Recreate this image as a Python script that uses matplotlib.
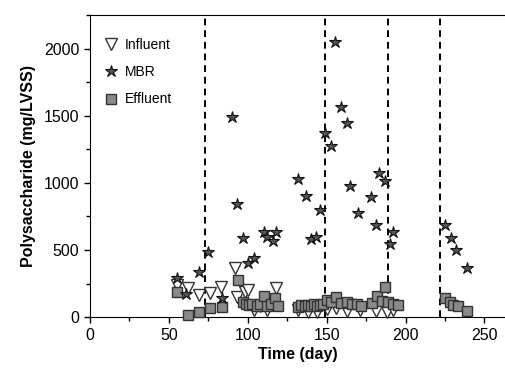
import matplotlib.pyplot as plt
from matplotlib.ticker import MultipleLocator

plt.rcParams['font.family'] = ['Liberation Sans', 'DejaVu Sans']

# MBR polysaccharide (day, mg/LVSS)
mbr_day = [55, 61, 69, 75, 84, 90, 93, 97, 100, 104, 110, 112, 116, 118,
           132, 137, 140, 143, 146, 149, 153, 155, 159, 163, 165, 170, 178,
           181, 183, 187, 190, 192, 225, 229, 232, 239]
mbr_val = [291, 170, 336, 485, 140, 1490, 843, 590, 403, 440, 634, 597, 567, 634,
           1025, 900, 580, 597, 798, 1373, 1276, 2052, 1567, 1448, 975, 776, 896,
           687, 1075, 1015, 545, 634, 687, 590, 500, 366]

# Influent
inf_day = [55, 62, 69, 76, 83, 92, 93, 98, 100, 104, 108, 112, 118,
           132, 138, 144, 150, 156, 163, 171, 181, 188, 192]
inf_val = [240, 215, 165, 180, 225, 365, 150, 190, 200, 50, 80, 55, 215,
           50, 35, 40, 60, 65, 45, 50, 45, 40, 55]

# Effluent
eff_day = [55, 62, 69, 76, 84, 94, 97, 99, 101, 103, 106, 108, 110, 112, 115,
           117, 119, 132, 134, 136, 138, 140, 142, 144, 146, 148, 150, 153, 156,
           159, 163, 166, 169, 172, 179, 182, 185, 187, 189, 192, 195,
           225, 228, 230, 233, 239]
eff_val = [190, 15, 37, 65, 75, 275, 110, 95, 90, 100, 80, 95, 160, 85, 95,
           140, 85, 75, 90, 80, 90, 85, 95, 80, 90, 100, 125, 110, 150,
           105, 110, 95, 95, 85, 105, 160, 120, 225, 110, 95, 90,
           140, 110, 90, 80, 45]

# stage boundaries (day)
stages = [73, 149, 189, 222]

fig = plt.figure(figsize=(5.05, 3.74), dpi=100)
ax = fig.add_axes([0.178, 0.152, 0.822, 0.808])

ax.plot(inf_day, inf_val, linestyle='none', marker='v', markersize=9,
        markerfacecolor='white', markeredgecolor='#333333', markeredgewidth=1,
        label='Influent', clip_on=False, zorder=3)
ax.plot(mbr_day, mbr_val, linestyle='none', marker='*', markersize=9,
        markerfacecolor='#555555', markeredgecolor='#111111', markeredgewidth=0.8,
        label='MBR', clip_on=False, zorder=5)
ax.plot(eff_day, eff_val, linestyle='none', marker='s', markersize=7,
        markerfacecolor='#8a8a8a', markeredgecolor='#333333', markeredgewidth=1,
        label='Effluent', clip_on=False, zorder=4)

for d in stages:
    ax.axvline(d, color='black', linestyle=(0, (3.5, 2.5)), linewidth=1.4, zorder=2)

ax.set_xlim(0, 263)
ax.set_ylim(0, 2250)
ax.xaxis.set_major_locator(MultipleLocator(50))
ax.xaxis.set_minor_locator(MultipleLocator(25))
ax.yaxis.set_major_locator(MultipleLocator(500))
ax.yaxis.set_minor_locator(MultipleLocator(250))
ax.tick_params(which='major', direction='out', length=4, width=1, labelsize=11.5)
ax.tick_params(which='minor', direction='out', length=3, width=1)
ax.spines['right'].set_visible(False)

ax.set_xlabel('Time (day)', fontsize=11.5, fontweight='bold', labelpad=3)
ax.set_ylabel('Polysaccharide (mg/LVSS)', fontsize=11.5, fontweight='bold', labelpad=6)

ax.legend(loc='upper left', frameon=False, fontsize=10, handletextpad=0.4,
          borderaxespad=0.5, bbox_to_anchor=(0.0, 0.965), labelspacing=0.95,
          handlelength=1.2)

fig.savefig('out.png', dpi=100)
